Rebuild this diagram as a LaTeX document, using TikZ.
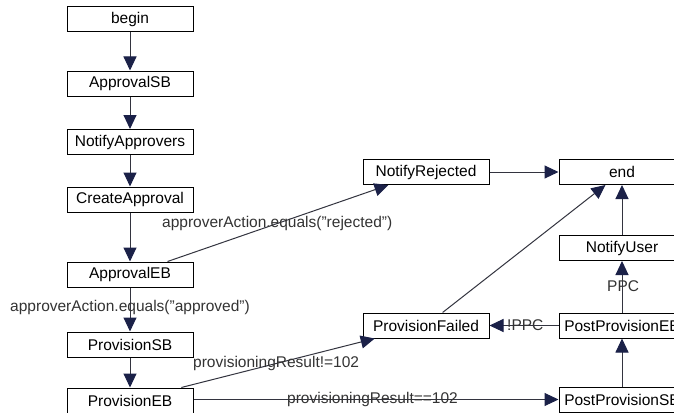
\documentclass[tikz,border=0pt]{standalone}
\usepackage{fontspec}
\setmainfont{Liberation Sans}
\usetikzlibrary{arrows.meta}
\definecolor{linec}{HTML}{33343F}
\definecolor{tipc}{HTML}{1B2148}
\newcommand{\dq}{\symbol{34}}
\tikzset{
  box/.style={draw=black, line width=1pt, fill=white, minimum width=126pt, minimum height=25pt, inner sep=0pt, font=\fontsize{15.5}{18}\selectfont},
  edge/.style={draw=linec, line width=1pt, -{Triangle[length=14pt,width=13pt,color=tipc]}},
  lbl/.style={inner sep=0pt, font=\fontsize{15.5}{18}\selectfont, text=black!80}
}
\begin{document}
\begin{tikzpicture}[x=1pt,y=-1pt]
\useasboundingbox (0,0) rectangle (674,412);
\clip (0,0) rectangle (674,412);
\fill[white] (0,0) rectangle (674,412);
% nodes
\node[box] (begin) at (130,19.5) {begin};
\node[box] (asb) at (130,83.5) {ApprovalSB};
\node[box] (na) at (130,142) {NotifyApprovers};
\node[box] (ca) at (130,199.5) {CreateApproval};
\node[box] (aeb) at (130,274.5) {ApprovalEB};
\node[box] (psb) at (130,344.5) {ProvisionSB};
\node[box] (peb) at (130,400.5) {ProvisionEB};
\node[box] (nr) at (426,172) {NotifyRejected};
\node[box] (end) at (622,172) {end};
\node[box] (nu) at (622,248) {NotifyUser};
\node[box] (ppeb) at (622,325.5) {PostProvisionEB};
\node[box] (pf) at (426,325.5) {ProvisionFailed};
\node[box] (ppsb) at (622,399.5) {PostProvisionSB};
% edges
\draw[edge] (begin) -- (asb);
\draw[edge] (asb) -- (na);
\draw[edge] (na) -- (ca);
\draw[edge] (ca) -- (aeb);
\draw[edge] (aeb) -- (psb);
\draw[edge] (psb) -- (peb);
\draw[edge] (aeb) -- (nr);
\draw[edge] (nr) -- (end);
\draw[edge] (peb) -- (pf);
\draw[edge] (pf) -- (end);
\draw[edge] (peb.east |- ppsb) -- (ppsb);
\draw[edge] (ppsb) -- (ppeb);
\draw[edge] (ppeb) -- (pf);
\draw[edge] (ppeb) -- (nu);
\draw[edge] (nu) -- (end);
% labels
\node[lbl] (l1) at (130,307) {approverAction.equals(\dq approved\dq)};
\node[lbl, anchor=west] (l2) at (162,223) {approverAction.equals(\dq rejected\dq)};
\node[lbl, anchor=west] (l3) at (193,363) {provisioningResult!=102};
\node[lbl, anchor=west] (l4) at (287,399) {provisioningResult==102};
\node[lbl, anchor=west] (l5) at (607,286) {PPC};
\node[lbl, anchor=west] (l6) at (507,325) {!PPC};
\end{tikzpicture}
\end{document}
